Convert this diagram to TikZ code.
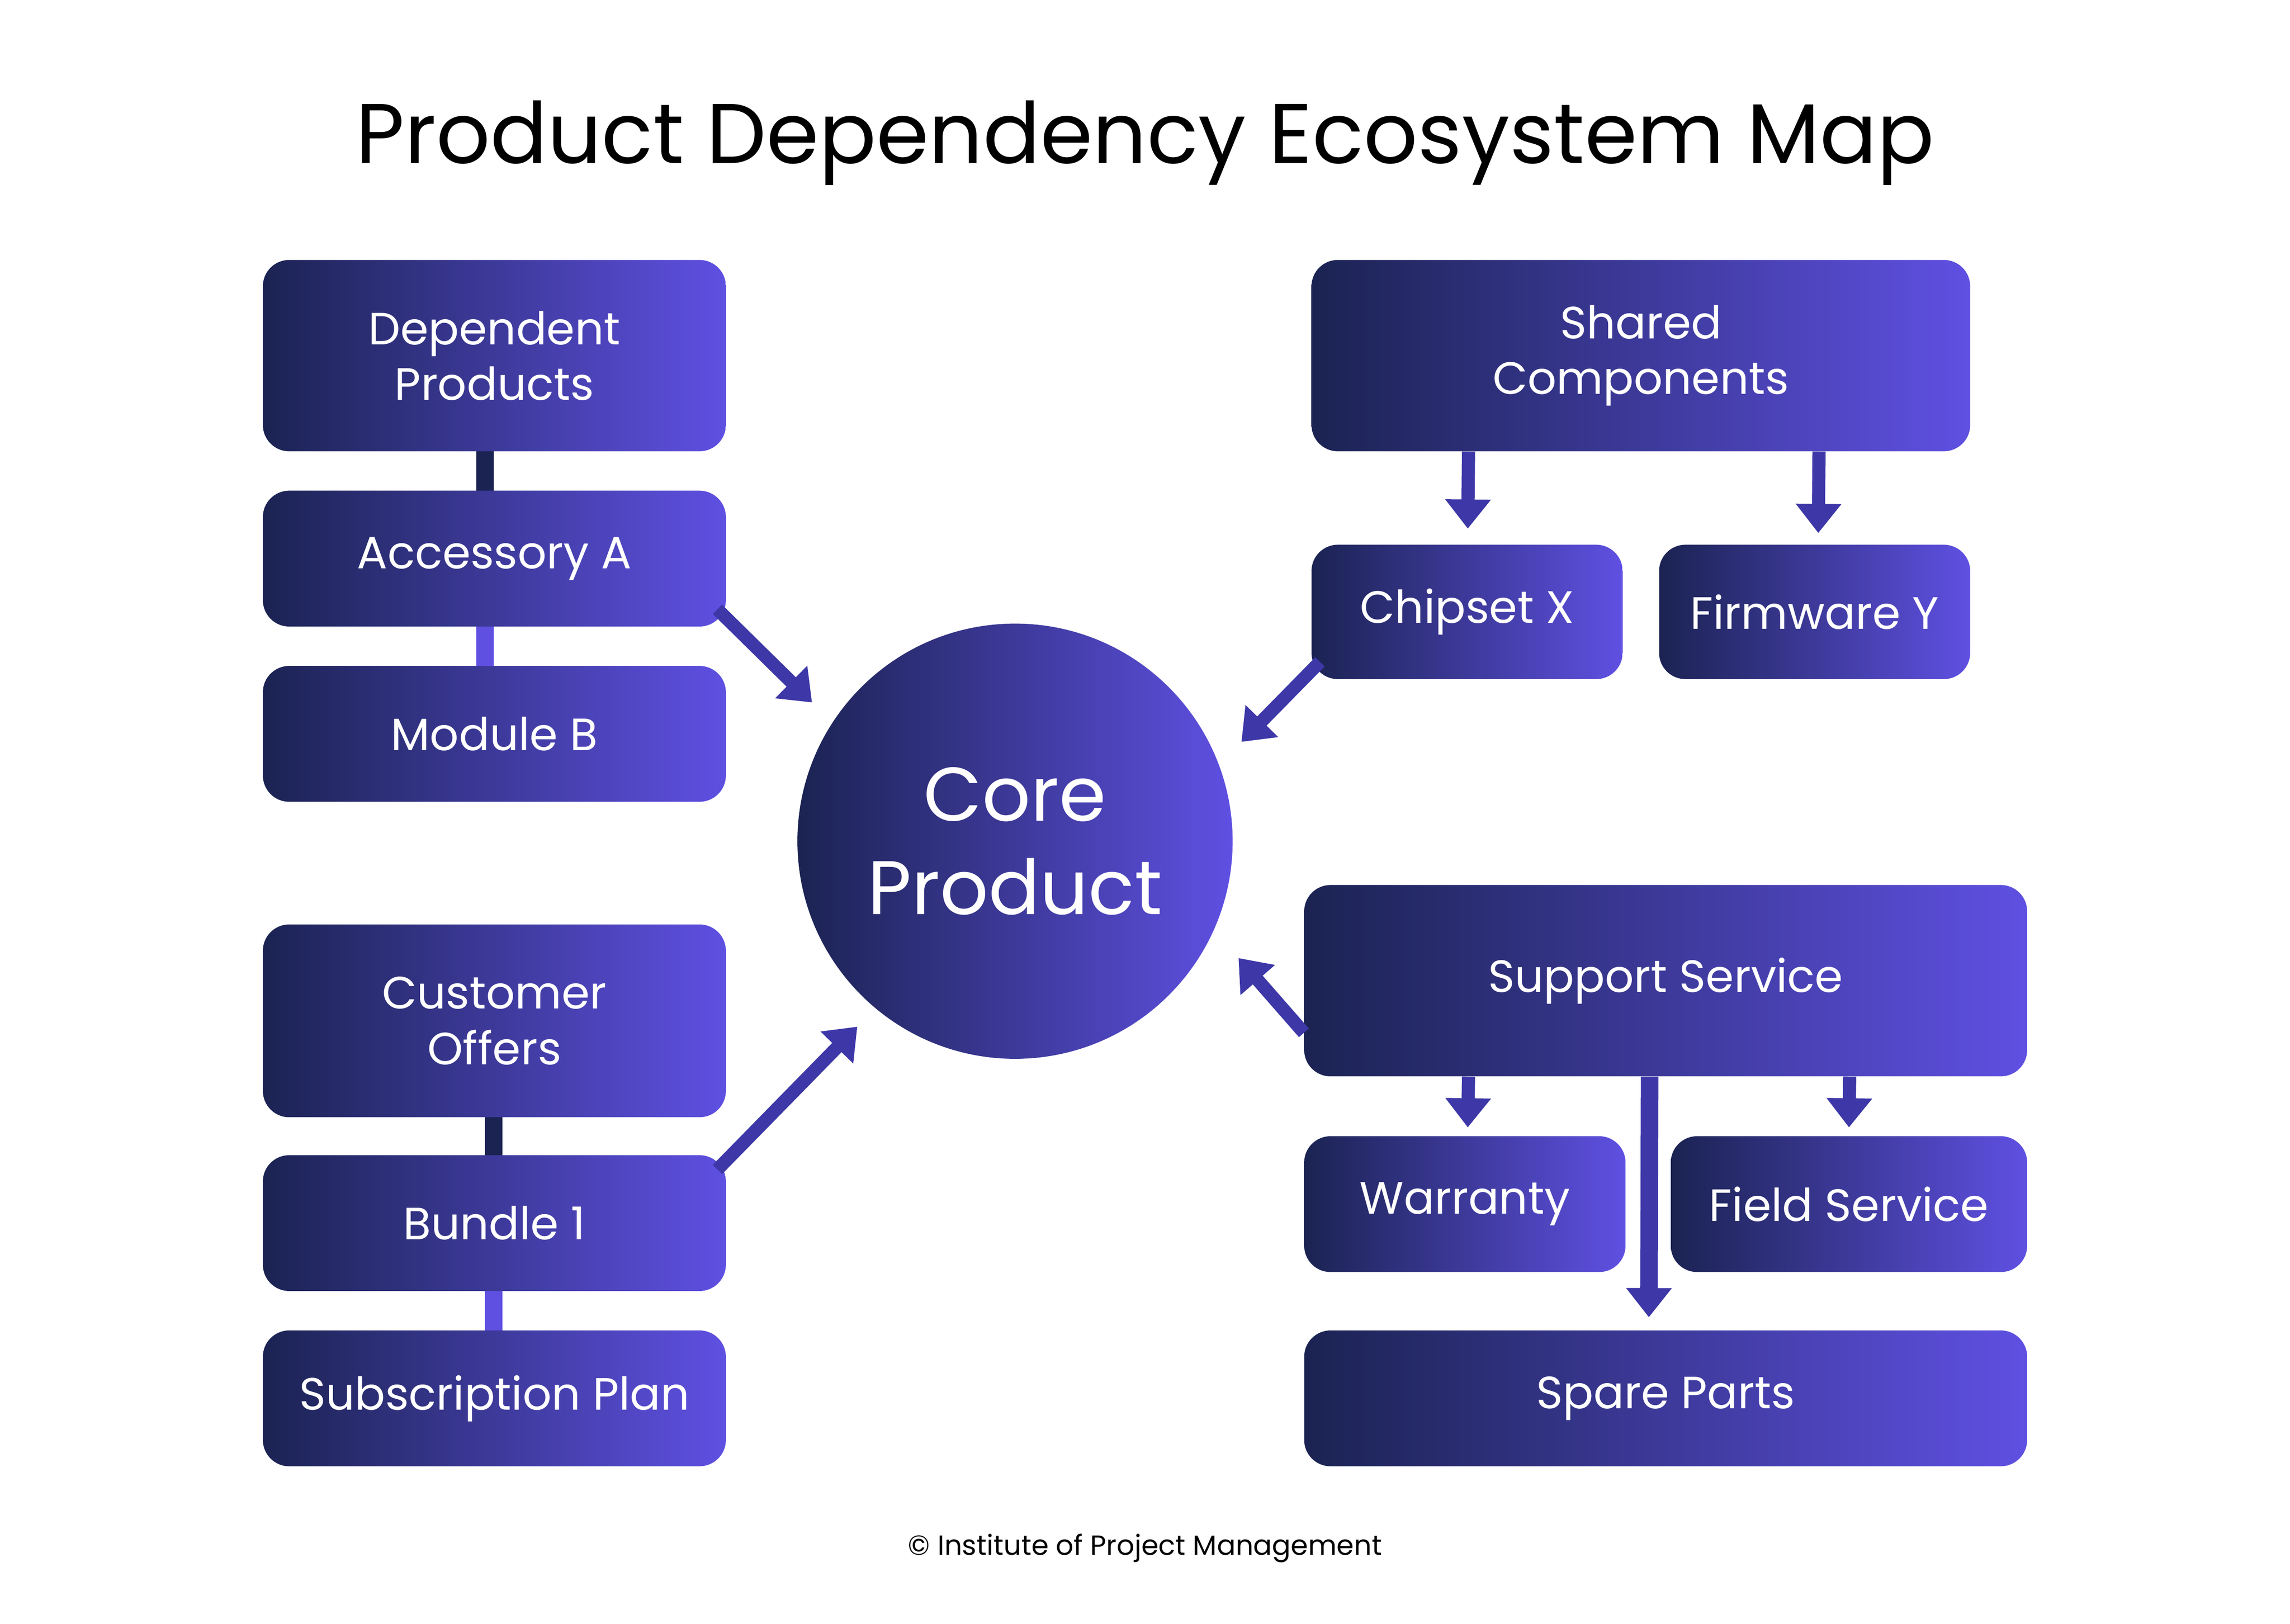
\documentclass[tikz,border=0pt]{standalone}
\usepackage{fontspec}
\setmainfont{Poppins}
\usetikzlibrary{arrows.meta}
\definecolor{dk}{HTML}{1B2352}
\definecolor{pu}{HTML}{5F50E2}
\definecolor{ar}{HTML}{3D37A8}
\tikzset{
 box/.style={rounded corners=18pt, left color=dk, right color=pu, draw=none, text=white, font=\fontsize{31}{38}\selectfont, align=center, inner sep=0pt},
 arr/.style={line width=9pt, draw=ar, -{Triangle[length=20pt,width=30pt]}},
 bar/.style={line width=12pt},
}
\newcommand{\bx}[6]{\node[box, minimum width=#4-#2, minimum height=#5-#3] (#1) at ({(#2+#4)/2},{(#3+#5)/2}) {#6};}
\begin{document}
\begin{tikzpicture}[x=1pt,y=-1pt]
\useasboundingbox (0,0) rectangle (1568,1112);
\node (title) at (784,98) {\fontsize{58}{66}\selectfont Product Dependency Ecosystem Map};
% connector bars (behind)
\draw[bar, draw=dk] (332,300) -- (332,345);
\draw[bar, draw=pu] (332,420) -- (332,465);
\draw[bar, draw=dk] (338,755) -- (338,800);
\draw[bar, draw=pu] (338,875) -- (338,920);
\bx{dp}{180}{178}{497}{309}{Dependent\\Products}
\bx{acc}{180}{336}{497}{429}{Accessory A}
\bx{mod}{180}{456}{497}{549}{Module B}
\bx{co}{180}{633}{497}{765}{Customer\\Offers}
\bx{bun}{180}{791}{497}{884}{Bundle 1}
\bx{sub}{180}{911}{497}{1004}{Subscription Plan}
\bx{sc}{898}{178}{1349}{309}{Shared\\Components}
\bx{chip}{898}{373}{1111}{465}{Chipset X}
\bx{fw}{1136}{373}{1349}{465}{Firmware Y}
\bx{ss}{893}{606}{1388}{737}{Support Service}
\bx{war}{893}{778}{1113}{871}{Warranty}
\bx{fs}{1144}{778}{1388}{871}{Field Service}
\bx{sp}{893}{911}{1388}{1004}{Spare Parts}
\node[circle, minimum size=298pt, inner sep=0pt, left color=dk, right color=pu, text=white, align=center, font=\fontsize{52}{64}\selectfont] (core) at (695,576) {Core\\Product};
% free ends
\coordinate (e1) at (556,481);
\coordinate (e2) at (850,508);
\coordinate (e3) at (587,703);
\coordinate (e4) at (848,656);
\coordinate (e5) at (1005,362);
\coordinate (e6) at (1245,365);
\coordinate (e7) at (1005,772);
\coordinate (e8) at (1266,772);
\coordinate (e9) at (1129,902);
\draw[arr] (acc.south east) ++(-6,-12) -- (e1);
\draw[arr] (chip.south west) ++(6,-12) -- (e2);
\draw[arr] (bun.north east) ++(-6,10) -- (e3);
\draw[arr] (ss.south west) ++(0,-30) -- (e4);
\draw[arr] (sc.south) ++(-118,0) -- (e5);
\draw[arr] (sc.south) ++(122,0) -- (e6);
\draw[arr] (ss.south) ++(-135,0) -- (e7);
\draw[arr] (ss.south) ++(126,0) -- (e8);
\draw[arr, line width=12pt] (ss.south) ++(-11,0) -- (e9);
\node (foot) at (784,1060) {\fontsize{19}{23}\selectfont © Institute of Project Management};
\end{tikzpicture}
\end{document}
